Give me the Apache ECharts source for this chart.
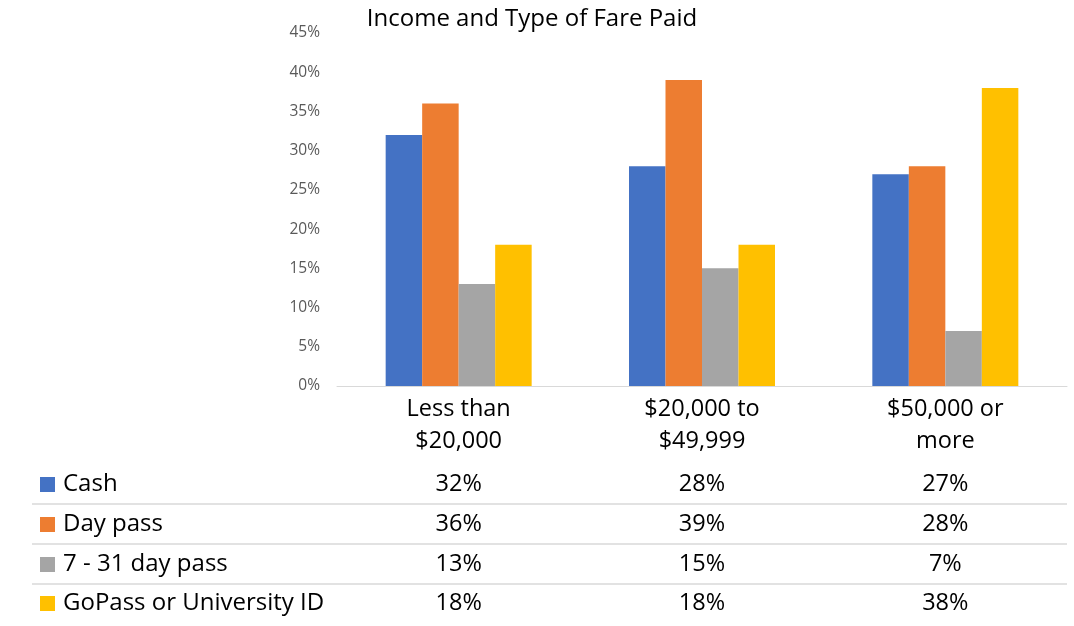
<!DOCTYPE html>
<html>
<head>
<meta charset="utf-8">
<script src="https://cdn.jsdelivr.net/npm/echarts@6/dist/echarts.min.js"></script>
<style>html,body{margin:0;padding:0;background:#fff;}#c{width:1074px;height:626px;}</style>
</head>
<body>
<div id="c"></div>
<script>
const categories = ['Less than\n$20,000', '$20,000 to\n$49,999', '$50,000 or\nmore'];
const seriesNames = ['Cash', 'Day pass', '7 - 31 day pass', 'GoPass or University ID'];
const cash = [0.32, 0.28, 0.27];
const dayPass = [0.36, 0.39, 0.28];
const monthPass = [0.13, 0.15, 0.07];
const goPass = [0.18, 0.18, 0.38];
const colors = ['#4472C4', '#ED7D31', '#A5A5A5', '#FFC000'];
const yTicks = [0, 0.05, 0.10, 0.15, 0.20, 0.25, 0.30, 0.35, 0.40, 0.45];

const FONT = '"Open Sans"';
const allSeries = [cash, dayPass, monthPass, goPass];
const chart = echarts.init(document.getElementById('c'));
const pct = v => Math.round(v * 100) + '%';

chart.setOption({
  animation: false,
  title: {
    text: 'Income and Type of Fare Paid',
    left: 527, top: 2, textAlign: 'center',
    textStyle: { fontFamily: FONT, fontSize: 24, fontWeight: 'normal', color: '#000' }
  },
  grid: { left: 337, right: 7, top: 33, bottom: 240 },
  xAxis: {
    type: 'category', data: categories,
    axisTick: { show: false },
    axisLine: { lineStyle: { color: '#D9D9D9', width: 1 } },
    axisLabel: { fontFamily: FONT, fontSize: 23.5, color: '#000', lineHeight: 32, margin: 7, interval: 0 }
  },
  yAxis: {
    type: 'value', min: 0, max: yTicks[yTicks.length - 1], interval: 0.05,
    splitLine: { show: false },
    axisLine: { show: false }, axisTick: { show: false },
    axisLabel: { fontFamily: FONT, fontSize: 15.5, color: '#595959', margin: 17, formatter: v => pct(v) }
  },
  series: allSeries.map((d, i) => ({
    name: seriesNames[i], type: 'bar', data: d,
    itemStyle: { color: colors[i] },
    barGap: '0%', barCategoryGap: '40%'
  }))
});

// data table
const rowY = [484, 524, 564, 603];
const lineY = [504, 544, 584];
const g = [];
lineY.forEach(y => g.push({ type: 'line', shape: { x1: 32, y1: y, x2: 1067, y2: y }, style: { stroke: '#D9D9D9', lineWidth: 1.5 } }));
seriesNames.forEach((name, i) => {
  g.push({ type: 'rect', shape: { x: 40, y: rowY[i] - 7, width: 15, height: 15 }, style: { fill: colors[i] } });
  g.push({ type: 'text', x: 63, y: rowY[i], style: { text: name, font: '24px ' + FONT, fill: '#000', verticalAlign: 'middle' } });
  allSeries[i].forEach((v, j) => {
    const px = chart.convertToPixel({ xAxisIndex: 0 }, j);
    g.push({ type: 'text', x: px, y: rowY[i], style: { text: pct(v), font: '23.5px ' + FONT, fill: '#000', align: 'center', verticalAlign: 'middle' } });
  });
});
chart.setOption({ graphic: g });
</script>
</body>
</html>
